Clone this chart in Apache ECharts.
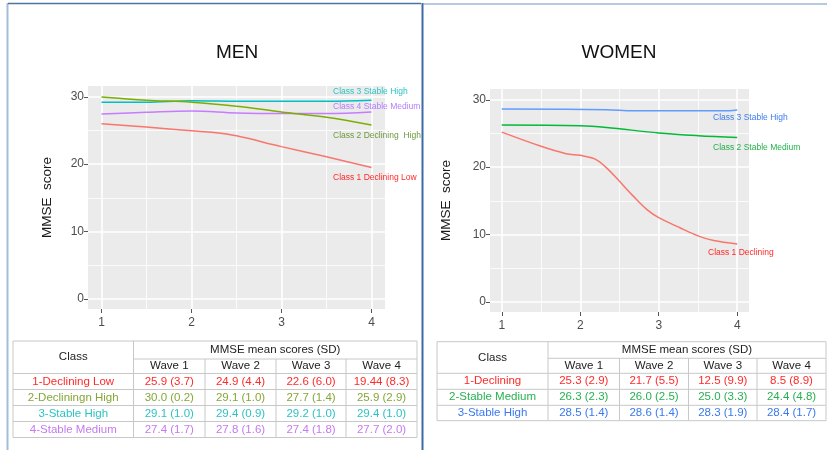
<!DOCTYPE html>
<html><head><meta charset="utf-8">
<script src="https://cdn.jsdelivr.net/npm/echarts@6/dist/echarts.min.js"></script>
<style>html,body{margin:0;padding:0;background:#fff}#c{width:827px;height:450px}</style>
</head><body><div id="c"></div>
<script>
// ---------- DATA ----------
const waves = ['Wave 1', 'Wave 2', 'Wave 3', 'Wave 4'];
const xTicks = [1, 2, 3, 4];
const xMinor = [1.5, 2.5, 3.5];
const yTicks = [0, 10, 20, 30];
const yMinor = [5, 15, 25];

// MEN smoothed trajectories (x = wave, y = MMSE)
const menClass1 = [[1,26.0],[1.5,25.5],[2,24.95],[2.25,24.7],[2.5,24.2],[3,22.6],[3.5,21.1],[4,19.5]];
const menClass2 = [[1,29.97],[1.5,29.5],[2,29.2],[2.5,28.6],[3,27.75],[3.5,26.96],[4,25.8]];
const menClass3 = [[1,29.18],[1.5,29.2],[2,29.42],[2.5,29.35],[3,29.33],[3.5,29.33],[4,29.48]];
const menClass4 = [[1,27.45],[1.5,27.7],[2,27.9],[2.5,27.6],[3,27.5],[3.5,27.5],[4,27.75]];

// WOMEN smoothed trajectories
const womenClass1 = [[1,25.2],[1.5,23.1],[1.82,22.0],[2,21.75],[2.19,21.2],[2.335,19.9],[2.5,17.9],[2.675,15.7],[2.85,13.7],[3,12.5],[3.27,11.0],[3.5,9.8],[3.7,9.1],[4,8.6]];
const womenClass2 = [[1,26.26],[2,26.16],[2.335,25.9],[3,25.07],[3.5,24.67],[4,24.4]];
const womenClass3 = [[1,28.63],[2.335,28.53],[2.675,28.38],[3.5,28.38],[3.9,28.38],[4,28.5]];

// Line end labels
const menLabels = ['Class 3 Stable High', 'Class 4 Stable Medium', 'Class 2 Declining  High', 'Class 1 Declining Low'];
const womenLabels = ['Class 3 Stable High', 'Class 2 Stable Medium', 'Class 1 Declining'];

// Tables
const menRowNames = ['1-Declining Low', '2-Decliningn High', '3-Stable High', '4-Stable Medium'];
const menMeans = [[25.9,24.9,22.6,19.44],[30.0,29.1,27.7,25.9],[29.1,29.4,29.2,29.4],[27.4,27.8,27.4,27.7]];
const menSD    = [[3.7,4.4,6.0,8.3],[0.2,1.0,1.4,2.9],[1.0,0.9,1.0,1.0],[1.7,1.6,1.8,2.0]];
const womenRowNames = ['1-Declining', '2-Stable Medium', '3-Stable High'];
const womenMeans = [[25.3,21.7,12.5,8.5],[26.3,26.0,25.0,24.4],[28.5,28.6,28.3,28.4]];
const womenSD    = [[2.9,5.5,9.9,8.9],[2.3,2.5,3.3,4.8],[1.4,1.4,1.9,1.7]];

// ---------- STYLE ----------
const menLineColors = ['#F8766D', '#7CAE00', '#00BFC4', '#C77CFF'];
const menTextColors = ['#ff2a2a', '#86a636', '#2cc3c3', '#c47af2'];
const menLabelColors = ['#2cc3c3', '#b27cff', '#6f9a3e', '#ff2a2a'];
const womenLineColors = ['#F8766D', '#00BA38', '#619CFF'];
const womenTextColors = ['#ff2a2a', '#27b050', '#3a78ee'];
const womenLabelColors = ['#3b7cf0', '#22b04c', '#ff2a2a'];

const FONT = '"Liberation Sans", Arial, sans-serif';
const chart = echarts.init(document.getElementById('c'));

function fmt(v){ return Number.isInteger(Math.round(v*10*1000)/1000) ? v.toFixed(1) : String(v); }

function xAx(gi){
  return [
    {gridIndex: gi, type:'value', min:0.85, max:4.15,
     axisLine:{show:false, onZero:false},
     axisTick:{show:true, length:4, lineStyle:{color:'#555', width:1}, customValues:xTicks},
     axisLabel:{show:true, customValues:xTicks, color:'#4d4d4d', fontSize:12, fontFamily:FONT, margin:8},
     splitLine:{show:true, lineStyle:{color:'#ffffff', width:1.6}}},
    {gridIndex: gi, type:'value', min:0.85, max:4.15,
     axisLine:{show:false, onZero:false},
     axisTick:{show:false, customValues:xMinor},
     axisLabel:{show:false, customValues:xMinor},
     splitLine:{show:true, lineStyle:{color:'#ffffff', width:0.8}}}
  ];
}
function yAx(gi, nameGap){
  return [
    {gridIndex: gi, type:'value', min:-1.5, max:31.6,
     name:'MMSE  score', nameLocation:'middle', nameGap:nameGap, nameRotate:90,
     nameTextStyle:{color:'#1a1a1a', fontSize:13.5, fontFamily:FONT},
     axisLine:{show:false, onZero:false},
     axisTick:{show:true, length:4, lineStyle:{color:'#555', width:1}, customValues:yTicks},
     axisLabel:{show:true, customValues:yTicks, color:'#4d4d4d', fontSize:12, fontFamily:FONT, margin:4},
     splitLine:{show:true, lineStyle:{color:'#ffffff', width:1.6}}},
    {gridIndex: gi, type:'value', min:-1.5, max:31.6,
     axisLine:{show:false, onZero:false},
     axisTick:{show:false, customValues:yMinor},
     axisLabel:{show:false, customValues:yMinor},
     splitLine:{show:true, lineStyle:{color:'#ffffff', width:0.8}}}
  ];
}

function lineSeries(data, color, xi, yi){
  return {type:'line', data:data, xAxisIndex:xi, yAxisIndex:yi, showSymbol:false, symbol:'none',
          smooth:0.35, lineStyle:{color:color, width:1.5}, z:5, silent:true};
}

const series = [
  lineSeries(menClass3, menLineColors[2], 0, 0),
  lineSeries(menClass4, menLineColors[3], 0, 0),
  lineSeries(menClass2, menLineColors[1], 0, 0),
  lineSeries(menClass1, menLineColors[0], 0, 0),
  lineSeries(womenClass3, womenLineColors[2], 2, 2),
  lineSeries(womenClass2, womenLineColors[1], 2, 2),
  lineSeries(womenClass1, womenLineColors[0], 2, 2)
];

// ---------- graphics ----------
const graphics = [];
function txt(x, y, s, color, size, align, extra){
  graphics.push(Object.assign({type:'text', x:x, y:y, z:50,
    style:{text:s, fill:color, font: (size)+'px '+FONT, textAlign:align||'center', textVerticalAlign:'middle'}}, extra||{}));
}
function ln(x1,y1,x2,y2,color,w,z){
  graphics.push({type:'line', z:z||40, shape:{x1:x1,y1:y1,x2:x2,y2:y2}, style:{stroke:color, lineWidth:w}});
}

// titles
txt(237, 53, 'MEN', '#111', 19);
txt(619, 53, 'WOMEN', '#111', 19);

// end labels
const menLabelPos = [[333,92],[333,107],[333,136],[333,178]];
menLabels.forEach((s,i)=>txt(menLabelPos[i][0], menLabelPos[i][1], s, menLabelColors[i], 8.5, 'left'));
const womenLabelPos = [[713,118],[713,148],[708,253]];
womenLabels.forEach((s,i)=>txt(womenLabelPos[i][0], womenLabelPos[i][1], s, womenLabelColors[i], 8.5, 'left'));

// white cover to clip men labels at panel border
graphics.push({type:'rect', z:60, shape:{x:421, y:84, width:14, height:60}, style:{fill:'#fff'}});

// tables
function table(cols, rows, rowNames, means, sds, colors){
  const lc = '#c8c8c8';
  const fs = 11.5;
  const L = cols[0], R = cols[cols.length-1];
  ln(L, rows[0], R, rows[0], lc, 1);
  ln(L, rows[rows.length-1], R, rows[rows.length-1], lc, 1);
  ln(L, rows[0], L, rows[rows.length-1], lc, 1);
  ln(R, rows[0], R, rows[rows.length-1], lc, 1);
  ln(cols[1], rows[1], R, rows[1], lc, 1);
  for (let r = 2; r < rows.length-1; r++) ln(L, rows[r], R, rows[r], lc, 1);
  ln(cols[1], rows[0], cols[1], rows[rows.length-1], lc, 1);
  for (let c = 2; c < cols.length-1; c++) ln(cols[c], rows[1], cols[c], rows[rows.length-1], lc, 1);
  txt((L+cols[1])/2, (rows[0]+rows[2])/2, 'Class', '#222', fs);
  txt((cols[1]+R)/2, (rows[0]+rows[1])/2, 'MMSE mean scores (SD)', '#222', fs);
  waves.forEach((w,i)=>txt((cols[i+1]+cols[i+2])/2, (rows[1]+rows[2])/2, w, '#222', fs));
  rowNames.forEach((n,r)=>{
    const cy = (rows[r+2]+rows[r+3])/2;
    txt((L+cols[1])/2, cy, n, colors[r], fs);
    means[r].forEach((m,c)=>txt((cols[c+1]+cols[c+2])/2, cy, fmt(m)+' ('+sds[r][c].toFixed(1)+')', colors[r], fs));
  });
}
table([13,133.5,205,276,346,417], [341,359,373.5,389.5,405.5,421.5,437.5], menRowNames, menMeans, menSD, menTextColors);
table([437,548,619.5,688.5,757,826], [341.7,358.3,373.3,389.3,405.3,420.7], womenRowNames, womenMeans, womenSD, womenTextColors);

// panel borders
ln(7.5, 3, 7.5, 450, '#a3bdd9', 2, 70);
ln(8, 3.5, 421, 3.5, '#4a74a8', 1.5, 70);
ln(422.5, 3, 422.5, 450, '#3c6aa8', 2, 70);
ln(423, 4, 827, 4, '#6f93c0', 1, 70);

chart.setOption({
  animation:false,
  backgroundColor:'#ffffff',
  grid:[
    {left:88, top:86, width:297, height:223, show:true, backgroundColor:'#EBEBEB', borderWidth:0},
    {left:490, top:89, width:259, height:223, show:true, backgroundColor:'#EBEBEB', borderWidth:0}
  ],
  xAxis: xAx(0).concat(xAx(1)),
  yAxis: yAx(0, 34).concat(yAx(1, 37)),
  series: series,
  graphic: graphics
});
</script>
</body></html>
